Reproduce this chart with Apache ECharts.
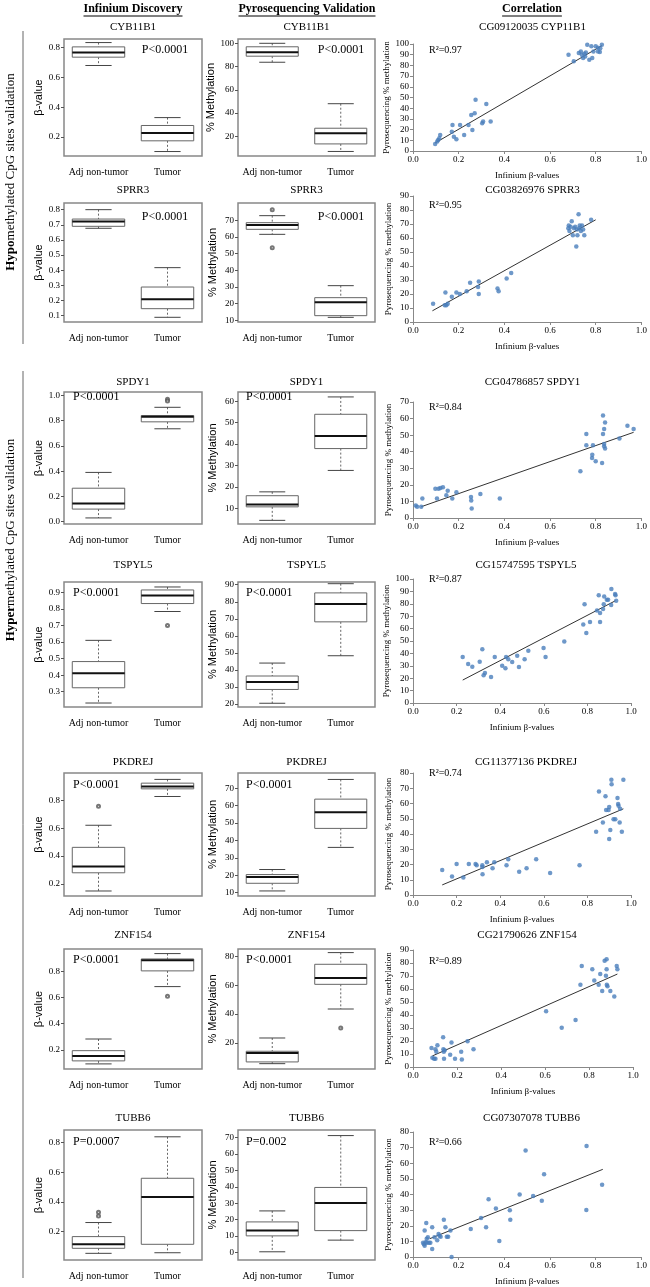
<!DOCTYPE html>
<html>
<head>
<meta charset="utf-8">
<script src="https://cdn.jsdelivr.net/npm/echarts@6/dist/echarts.min.js"></script>
<style>
body{margin:0;background:#fff;}
#main{width:650px;height:1287px;}
</style>
</head>
<body>
<div id="main"></div>
<script>
// ---- data ----
var genes = ['CYB11B1','SPRR3','SPDY1','TSPYL5','PKDREJ','ZNF154','TUBB6'];
var groups = ['Adj non-tumor','Tumor'];

// box stats: [min, q1, median, q3, max]
var betaAdj = [[0.68,0.736,0.767,0.805,0.834],[0.677,0.69,0.721,0.738,0.80],[0.03,0.10,0.145,0.265,0.39],[0.232,0.324,0.412,0.482,0.61],[0.149,0.28,0.325,0.463,0.622],[0.093,0.116,0.154,0.194,0.283],[0.053,0.087,0.114,0.166,0.261]];
var betaTumor = [[0.102,0.174,0.226,0.277,0.33],[0.089,0.146,0.208,0.289,0.417],[0.735,0.79,0.83,0.84,0.905],[0.784,0.832,0.88,0.914,0.932],[0.829,0.884,0.90,0.925,0.952],[0.683,0.803,0.884,0.894,0.935],[0.057,0.114,0.433,0.56,0.84]];
var betaOutliers = [[],[],[[1,0.968],[1,0.955]],[[1,0.70]],[[0,0.759]],[[1,0.609]],[[0,0.331],[0,0.306]]];
var betaP = ['P<0.0001','P<0.0001','P<0.0001','P<0.0001','P<0.0001','P<0.0001','P=0.0007'];
var betaTicks = [[0.2,0.4,0.6,0.8],[0.1,0.2,0.3,0.4,0.5,0.6,0.7,0.8],[0,0.2,0.4,0.6,0.8,1.0],[0.3,0.4,0.5,0.6,0.7,0.8,0.9],[0.2,0.4,0.6,0.8],[0.2,0.4,0.6,0.8],[0.2,0.4,0.6,0.8]];

var pyroAdj = [[83.7,88.9,92.3,97,100],[61.6,64.6,67.2,68.6,72.8],[4.4,10.7,11.8,15.9,17.7],[20.4,28.5,32.9,36.4,44],[11,15.4,19,20.4,23.3],[5.6,6.8,13,14.2,23.4],[0.4,10.1,13.3,18.6,25.3]];
var pyroTumor = [[6.9,13.4,22.5,26.9,48],[11.8,12.8,20.8,23.6,30.8],[27.7,37.9,43.8,53.9,62],[48.3,68.2,78.7,85.2,90.6],[36,46.9,56.2,63.7,75],[43.5,60.6,65,74.5,82.6],[7.5,13.3,30.1,39.6,71.2]];
var pyroOutliers = [[],[[0,76.4],[0,53.6]],[],[],[],[[1,30.3]],[]];
var pyroP = ['P<0.0001','P<0.0001','P<0.0001','P<0.0001','P<0.0001','P<0.0001','P=0.002'];
var pyroTicks = [[20,40,60,80,100],[10,20,30,40,50,60,70],[10,20,30,40,50,60],[20,30,40,50,60,70,80,90],[10,20,30,40,50,60,70],[20,40,60,80],[0,10,20,30,40,50,60,70]];

// correlation panels: [infinium beta, pyro % methylation]
var corrTitles = ['CG09120035 CYP11B1','CG03826976 SPRR3','CG04786857 SPDY1','CG15747595 TSPYL5','CG11377136 PKDREJ','CG21790626 ZNF154','CG07307078 TUBB6'];
var r2 = ['0.97','0.95','0.84','0.87','0.74','0.89','0.66'];
var corrYMax = [100,90,70,100,80,90,80];

var ptsCYB11B1 = [[0.097,6.6],[0.106,8.8],[0.11,10.3],[0.115,11.9],[0.119,15],[0.17,18],[0.173,24.4],[0.179,13.4],[0.19,11],[0.206,24.4],[0.224,15],[0.243,24.4],[0.255,33.7],[0.26,19.7],[0.27,35.3],[0.274,47.8],[0.303,25.9],[0.307,27.5],[0.321,44],[0.34,27.5],[0.681,90],[0.704,83.8],[0.726,91.6],[0.735,93],[0.739,90],[0.745,86.9],[0.75,91],[0.754,88.4],[0.757,92],[0.763,99.4],[0.772,85.3],[0.781,97.8],[0.785,86.9],[0.79,93],[0.8,97.8],[0.81,93],[0.81,96.6],[0.818,92.5],[0.82,96],[0.827,99.4]];
var ptsSPRR3 = [[0.088,13],[0.139,12],[0.142,21],[0.146,12],[0.152,13],[0.17,18],[0.19,21],[0.205,20],[0.235,22],[0.25,28],[0.285,25],[0.288,29],[0.288,20],[0.37,24],[0.375,22],[0.41,31],[0.43,35],[0.68,67],[0.682,69],[0.685,65],[0.69,68],[0.695,72],[0.70,62],[0.705,67],[0.71,68],[0.715,54],[0.718,66],[0.72,62],[0.725,77],[0.728,67],[0.73,69],[0.735,65],[0.74,69],[0.745,66],[0.75,62],[0.78,73]];
var ptsSPDY1 = [[0.012,7.6],[0.018,6.8],[0.036,6.8],[0.041,11.7],[0.098,17.7],[0.105,11.7],[0.112,17.7],[0.12,18.1],[0.131,18.5],[0.146,13.7],[0.152,16.5],[0.172,11.7],[0.19,15.5],[0.254,12.7],[0.255,10.5],[0.257,5.8],[0.295,14.5],[0.38,11.7],[0.733,28.2],[0.759,50.7],[0.759,43.9],[0.784,36.2],[0.785,38.2],[0.788,43.9],[0.8,34.2],[0.828,33.2],[0.832,50.7],[0.832,61.8],[0.837,53.7],[0.841,57.7],[0.837,44.7],[0.837,43.3],[0.841,41.9],[0.904,47.9],[0.939,55.7],[0.966,53.7]];
var ptsTSPYL5 = [[0.228,37.1],[0.253,31.5],[0.272,29.3],[0.306,33.3],[0.318,43.3],[0.324,22.3],[0.33,24.2],[0.358,21],[0.375,37.1],[0.409,30.1],[0.424,28],[0.427,37.1],[0.437,35.2],[0.455,33.1],[0.478,38.2],[0.486,29],[0.512,35.2],[0.529,42.2],[0.599,44.4],[0.608,37.1],[0.694,49.5],[0.781,63.4],[0.787,79.6],[0.795,56.5],[0.812,65.3],[0.844,74.5],[0.852,86.8],[0.858,72.6],[0.858,65.3],[0.872,75.8],[0.875,79.6],[0.877,85.8],[0.889,83.3],[0.895,83.3],[0.909,79],[0.91,91.9],[0.927,87.9],[0.929,86.8],[0.932,82.5]];
var ptsPKDREJ = [[0.134,16.4],[0.179,12.2],[0.2,20.3],[0.231,11.4],[0.256,20.3],[0.287,20.3],[0.292,19.5],[0.318,19.5],[0.318,18.4],[0.319,13.6],[0.339,21.4],[0.365,17.5],[0.373,21.4],[0.429,19.5],[0.437,23.4],[0.487,15.3],[0.521,17.5],[0.565,23.4],[0.629,14.4],[0.764,19.5],[0.84,41.5],[0.853,67.8],[0.871,47.6],[0.883,64.7],[0.886,55.7],[0.897,55.7],[0.9,57.7],[0.9,36.7],[0.905,42.6],[0.91,75.6],[0.911,72.6],[0.92,49.6],[0.928,49.6],[0.938,63.6],[0.941,59.7],[0.943,58.6],[0.948,47.6],[0.95,56.6],[0.958,41.5],[0.965,75.6]];
var ptsZNF154 = [[0.084,14.7],[0.088,7.2],[0.096,6.4],[0.102,6.4],[0.102,13.6],[0.106,11.8],[0.111,16.7],[0.137,22.9],[0.138,13.6],[0.14,11.8],[0.141,6.4],[0.144,12.9],[0.169,9.5],[0.175,18.8],[0.191,6.4],[0.219,11.8],[0.222,5.7],[0.248,19.8],[0.275,13.6],[0.605,42.9],[0.676,30.1],[0.739,36.2],[0.761,63.2],[0.767,77.6],[0.815,75.1],[0.824,66.6],[0.844,63.2],[0.851,71.5],[0.86,58.4],[0.871,81.7],[0.88,82.8],[0.877,70.2],[0.88,75.1],[0.881,63.2],[0.884,62.2],[0.897,58.4],[0.915,54.2],[0.926,77.6],[0.929,75.1]];
var ptsTUBB6 = [[0.044,9.1],[0.048,8.1],[0.051,7.2],[0.051,16.9],[0.055,9.5],[0.058,21.8],[0.06,11.7],[0.061,9.1],[0.065,12.7],[0.07,9.1],[0.076,9.1],[0.084,19.1],[0.084,5.1],[0.094,12.7],[0.106,10.8],[0.112,14.8],[0.116,13.6],[0.121,12.9],[0.135,23.9],[0.142,19.1],[0.148,12.9],[0.154,12.9],[0.164,16.9],[0.169,0],[0.253,18],[0.298,25],[0.32,19.1],[0.331,36.9],[0.363,31.1],[0.378,10.2],[0.424,29.9],[0.426,23.9],[0.467,40],[0.493,68.2],[0.526,39],[0.564,36],[0.574,53],[0.759,30.1],[0.76,71],[0.828,46.2]];
var corrPoints = [ptsCYB11B1, ptsSPRR3, ptsSPDY1, ptsTSPYL5, ptsPKDREJ, ptsZNF154, ptsTUBB6];
// ends of the fitted lines as drawn
var fitLines = [[[0.097,7.5],[0.827,98.5]],[[0.085,8],[0.80,73]],[[0.036,6.8],[0.966,51.7]],[[0.228,18.5],[0.929,82.5]],[[0.134,6.6],[0.965,56.5]],[[0.088,8.5],[0.929,71.5]],[[0.073,11.7],[0.831,56.1]]];

// ---- layout ----
var boxTop = [39,203,392,582,773,949,1130];
var boxH = [117,119,132,125,123,120,130];
var betaRange = [[0.072,0.858],[0.058,0.844],[-0.018,1.026],[0.208,0.962],[0.113,0.998],[0.054,0.97],[0.008,0.886]];
var pyroRange = [[3,103.7],[9,80.4],[2.7,64.3],[18.2,91.6],[8.1,78.7],[1.9,85.1],[-4.6,74.6]];
var corrTop = [44,196,402,579,773,950,1132];
var corrH = [107,126,116,124,122,117,126];
var corrW = [231,231,231,218,218,220,229];
var titleY = [27,190,382,565,762,935,1118];
var pY = [50,217,397,593,785,960,1142];
var r2Y = [50,205,407,579,773,961,1142];
var col1X = 64, col1W = 138, col2X = 238, col2W = 137, corrX = 413;

var SERIF = '"Liberation Serif","Times New Roman",serif';
var SANS = '"Liberation Sans",Arial,sans-serif';

function renderBox(params, api) {
	var c = api.value(0);
	var lo = api.coord([c, api.value(1)]);
	var q1 = api.coord([c, api.value(2)]);
	var md = api.coord([c, api.value(3)]);
	var q3 = api.coord([c, api.value(4)]);
	var hi = api.coord([c, api.value(5)]);
	var bw = api.size([1, 0])[0] * 0.76;
	var cx = lo[0];
	var cap = bw * 0.25;
	var dash = {stroke:'#666', lineWidth:1, lineDash:[2,2]};
	var solid = {stroke:'#444', lineWidth:1};
	return {type:'group', children:[
		{type:'line', shape:{x1:cx,y1:hi[1],x2:cx,y2:q3[1]}, style:dash},
		{type:'line', shape:{x1:cx,y1:q1[1],x2:cx,y2:lo[1]}, style:dash},
		{type:'line', shape:{x1:cx-cap,y1:hi[1],x2:cx+cap,y2:hi[1]}, style:solid},
		{type:'line', shape:{x1:cx-cap,y1:lo[1],x2:cx+cap,y2:lo[1]}, style:solid},
		{type:'rect', shape:{x:cx-bw/2,y:q3[1],width:bw,height:q1[1]-q3[1]}, style:{fill:'#fff',stroke:'#666',lineWidth:1}},
		{type:'line', shape:{x1:cx-bw/2,y1:md[1],x2:cx+bw/2,y2:md[1]}, style:{stroke:'#111',lineWidth:2}}
	]};
}

var grids = [], xAxes = [], yAxes = [], series = [], graphics = [];

function addText(x, y, text, font, align) {
	graphics.push({type:'text', x:x, y:y, style:{text:text, font:font, fill:'#000', align:align || 'center', verticalAlign:'middle'}});
}

function addBoxPanel(r, left, width, adj, tum, outl, range, ticks, decimals, name, nameGap) {
	var k = grids.length;
	grids.push({left:left, top:boxTop[r], width:width, height:boxH[r], show:true, borderColor:'#888', borderWidth:1.5, backgroundColor:'transparent'});
	xAxes.push({gridIndex:k, type:'category', data:groups, boundaryGap:true,
		axisLine:{show:false}, axisTick:{show:false},
		axisLabel:{fontFamily:SERIF, fontSize:10, color:'#000', margin:11, interval:0, hideOverlap:false}});
	yAxes.push({gridIndex:k, type:'value', min:range[0], max:range[1],
		name:name, nameLocation:'middle', nameGap:nameGap, nameRotate:90,
		nameTextStyle:{fontFamily:SANS, fontSize:11, color:'#000'},
		axisLine:{show:false}, splitLine:{show:false},
		axisTick:{show:true, length:3, lineStyle:{color:'#555'}, customValues:ticks},
		axisLabel:{fontFamily:SERIF, fontSize:9, color:'#000', margin:4, customValues:ticks,
			formatter:function (v) { return decimals ? v.toFixed(1) : String(Math.round(v)); }}});
	series.push({type:'custom', xAxisIndex:k, yAxisIndex:k, renderItem:renderBox,
		encode:{x:0, y:[1,2,3,4,5]}, data:[[0].concat(adj), [1].concat(tum)], z:2});
	if (outl.length) {
		series.push({type:'scatter', xAxisIndex:k, yAxisIndex:k, data:outl, symbol:'emptyCircle', symbolSize:3,
			itemStyle:{color:'#555', borderWidth:0.7}, z:3});
	}
}

for (var r = 0; r < genes.length; r++) {
	// titles
	addText(col1X + col1W / 2, titleY[r], genes[r], '11px ' + SERIF);
	addText(col2X + col2W / 2, titleY[r], genes[r], '11px ' + SERIF);
	addText(corrX + corrW[r] / 2 + 4, titleY[r], corrTitles[r], '11px ' + SERIF);

	addBoxPanel(r, col1X, col1W, betaAdj[r], betaTumor[r], betaOutliers[r], betaRange[r], betaTicks[r], true, 'β-value', 20);
	addBoxPanel(r, col2X, col2W, pyroAdj[r], pyroTumor[r], pyroOutliers[r], pyroRange[r], pyroTicks[r], false, '% Methylation', 20);

	// p values: top right for the hypo rows, top left for the hyper rows
	if (r < 2) {
		addText(165, pY[r], betaP[r], '12px ' + SERIF);
		addText(341, pY[r], pyroP[r], '12px ' + SERIF);
	} else {
		addText(col1X + 9, pY[r], betaP[r], '12px ' + SERIF, 'left');
		addText(col2X + 8, pY[r], pyroP[r], '12px ' + SERIF, 'left');
	}

	// correlation panel
	var k = grids.length;
	grids.push({left:corrX, top:corrTop[r], width:corrW[r], height:corrH[r]});
	xAxes.push({gridIndex:k, type:'value', min:0, max:1, interval:0.2,
		name:'Infinium β-values', nameLocation:'middle', nameGap:20,
		nameTextStyle:{fontFamily:SERIF, fontSize:9, color:'#000'},
		axisLine:{show:true, lineStyle:{color:'#888'}}, splitLine:{show:false},
		axisTick:{show:true, length:3, lineStyle:{color:'#888'}},
		axisLabel:{fontFamily:SERIF, fontSize:9, color:'#000', margin:4,
			formatter:function (v) { return v.toFixed(1); }}});
	yAxes.push({gridIndex:k, type:'value', min:0, max:corrYMax[r], interval:10,
		name:'Pyrosequencing % methylation', nameLocation:'middle', nameGap:20, nameRotate:90,
		nameTextStyle:{fontFamily:SERIF, fontSize:9, color:'#000'},
		axisLine:{show:true, lineStyle:{color:'#888'}}, splitLine:{show:false},
		axisTick:{show:true, length:3, lineStyle:{color:'#888'}},
		axisLabel:{fontFamily:SERIF, fontSize:9, color:'#000', margin:4}});
	series.push({type:'scatter', xAxisIndex:k, yAxisIndex:k, data:corrPoints[r], symbolSize:4.5,
		itemStyle:{color:'#4a7ebb'}, z:3});
	series.push({type:'line', xAxisIndex:k, yAxisIndex:k, data:fitLines[r], symbol:'none',
		lineStyle:{color:'#333', width:1}, z:2});
	addText(429, r2Y[r], 'R²=' + r2[r], '10px ' + SERIF, 'left');
}

// column headers with underline
var ctx = document.createElement('canvas').getContext('2d');
var heads = [['Infinium Discovery', 133], ['Pyrosequencing Validation', 307], ['Correlation', 532]];
for (var h = 0; h < heads.length; h++) {
	var hf = 'bold 12px ' + SERIF;
	addText(heads[h][1], 9, heads[h][0], hf);
	ctx.font = hf;
	var w = ctx.measureText(heads[h][0]).width;
	graphics.push({type:'line', shape:{x1:heads[h][1] - w / 2, y1:16, x2:heads[h][1] + w / 2, y2:16}, style:{stroke:'#000', lineWidth:1}});
}

// section labels on the left
graphics.push({type:'line', shape:{x1:23, y1:31, x2:23, y2:344}, style:{stroke:'#666', lineWidth:1}});
graphics.push({type:'line', shape:{x1:23, y1:371, x2:23, y2:1278}, style:{stroke:'#666', lineWidth:1}});
var sectionRich = {b:{fontWeight:'bold', fontFamily:SERIF, fontSize:13}, n:{fontFamily:SERIF, fontSize:13}};
graphics.push({type:'text', x:11, y:172, rotation:Math.PI / 2,
	style:{text:'{b|Hypo}{n|methylated CpG sites validation}', rich:sectionRich, align:'center', verticalAlign:'middle', fill:'#000'}});
graphics.push({type:'text', x:11, y:540, rotation:Math.PI / 2,
	style:{text:'{b|Hyper}{n|methylated CpG sites validation}', rich:sectionRich, align:'center', verticalAlign:'middle', fill:'#000'}});

var myChart = echarts.init(document.getElementById('main'), null, {renderer:'canvas'});
var option = {
	backgroundColor:'#fff',
	animation:false,
	grid:grids,
	xAxis:xAxes,
	yAxis:yAxes,
	series:series,
	graphic:graphics
};
myChart.setOption(option);
</script>
</body>
</html>
